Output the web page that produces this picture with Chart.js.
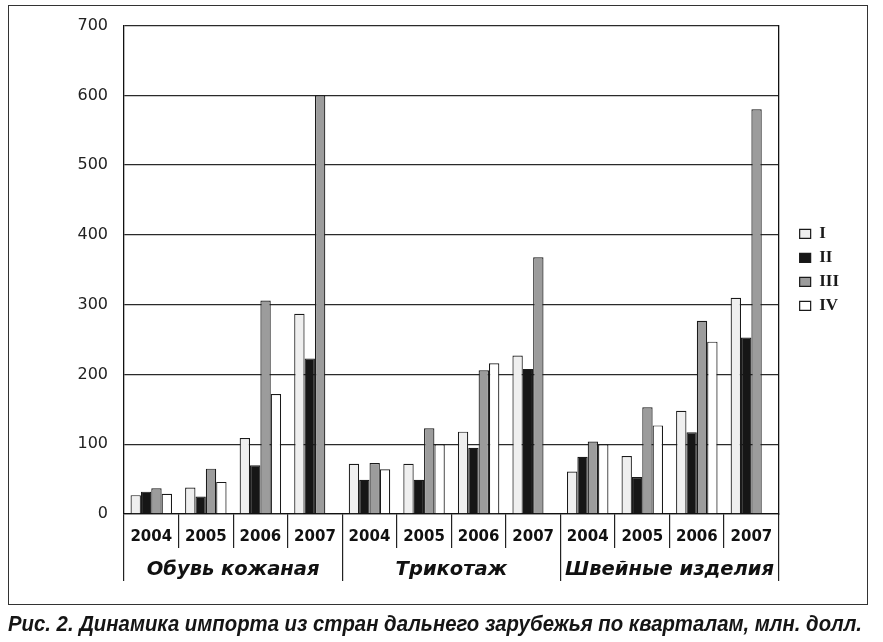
<!DOCTYPE html>
<html><head><meta charset="utf-8">
<script src="https://cdn.jsdelivr.net/npm/chart.js@4.4.1/dist/chart.umd.min.js"></script>
<style>
html,body{margin:0;padding:0;background:#fff;width:883px;height:642px;overflow:hidden;}
#frame{position:absolute;left:8px;top:5px;width:858px;height:598px;border:1.5px solid #333;}
#c{position:absolute;left:0;top:0;}
#cap{position:absolute;left:8px;top:611px;font:italic bold 22px "Liberation Sans Narrow","Arial Narrow","Liberation Sans",sans-serif;color:#151515;white-space:nowrap;transform-origin:0 0;}
</style></head><body>
<div id="frame"></div>
<canvas id="c" width="883" height="642"></canvas>
<div id="cap">Рис. 2. Динамика импорта из стран дальнего зарубежья по кварталам, млн. долл.</div>
<script>
const years = ['2004','2005','2006','2007','2004','2005','2006','2007','2004','2005','2006','2007'];
const products = ['Обувь кожаная','Трикотаж','Швейные изделия'];
const quarters = ['I','II','III','IV'];
const q1 = [27, 38, 109, 287, 72, 72, 118, 227, 61, 83, 148, 310];
const q2 = [32, 25, 70, 223, 49, 49, 95, 208, 82, 53, 117, 253];
const q3 = [37, 65, 306, 600, 73, 123, 206, 368, 104, 153, 277, 580];
const q4 = [29, 46, 172, null, 64, 100, 216, null, 100, 127, 247, null];
const yMax = 700, yStep = 100;

const series = [q1, q2, q3, q4];
const fills = ['#efefef', '#161616', '#9c9c9c', '#ffffff'];

const cap = document.getElementById('cap');
const cw = cap.getBoundingClientRect().width;
cap.style.transform = 'scaleX(' + (854 / cw) + ')';

new Chart(document.getElementById('c'), {
  type: 'bar',
  data: {
    labels: years,
    datasets: quarters.map((q, i) => ({
      label: q,
      data: series[i],
      backgroundColor: fills[i],
      borderColor: '#1a1a1a',
      borderWidth: 1.2,
      categoryPercentage: 0.76,
      barPercentage: 1.0
    }))
  },
  options: {
    responsive: false,
    animation: false,
    devicePixelRatio: 1,
    layout: { padding: { top: 22, left: 0, right: 34, bottom: 61 } },
    plugins: {
      legend: {
        position: 'right', align: 'center', fullSize: false,
        labels: { boxWidth: 11, boxHeight: 9, padding: 7, color: '#1a1a1a',
          font: { family: 'Liberation Serif', weight: 'bold', size: 17 } }
      },
      tooltip: { enabled: false }
    },
    scales: {
      x: {
        type: 'category', offset: true,
        grid: { offset: true, drawOnChartArea: false, drawTicks: true, tickLength: 34, color: '#222', lineWidth: 1.2 },
        border: { display: true, color: '#111', width: 1.3 },
        ticks: { padding: -20, color: '#111', maxRotation: 0, autoSkip: false,
          font: { family: 'DejaVu Sans', weight: 'bold', size: 15 } },
        afterFit: s => { s.height = 34; }
      },
      x2: {
        type: 'category', labels: products, position: 'bottom', offset: true,
        grid: { offset: true, drawOnChartArea: false, drawTicks: true, tickLength: 33, color: '#222', lineWidth: 1.2 },
        border: { display: false },
        ticks: { padding: -23, color: '#111', maxRotation: 0, autoSkip: false,
          font: { family: 'DejaVu Sans', weight: 'bold', style: 'italic', size: 19.5 } },
        afterFit: s => { s.height = 33; }
      },
      y: {
        min: 0, max: yMax,
        ticks: { stepSize: yStep, padding: 16, color: '#222', font: { family: 'DejaVu Sans', size: 16 } },
        grid: { color: '#2a2a2a', lineWidth: 1.3, drawTicks: false },
        border: { color: '#111', width: 1.3 },
        afterFit: s => { s.width = 124; }
      },
      y2: {
        position: 'right', min: 0, max: yMax,
        grid: { display: false, drawTicks: false },
        ticks: { display: false },
        border: { display: true, color: '#111', width: 1.3 },
        afterFit: s => { s.width = 14; }
      }
    }
  }
});
</script>
</body></html>
